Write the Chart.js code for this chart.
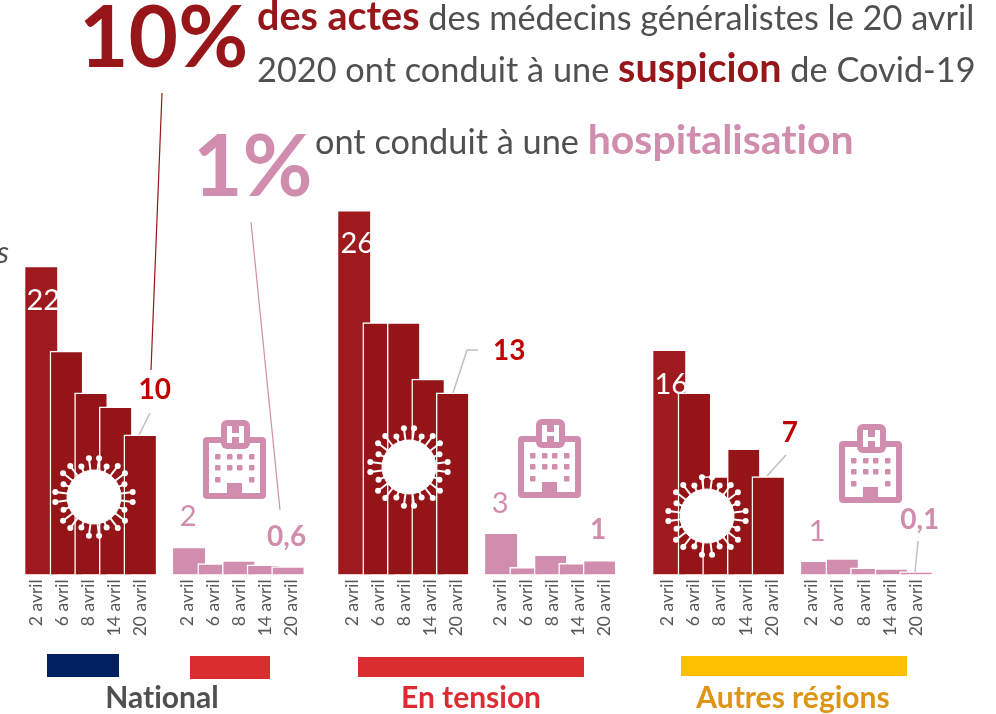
<!DOCTYPE html>
<html lang="fr">
<head>
<meta charset="utf-8">
<title>Actes des médecins généralistes</title>
<script src="https://cdn.jsdelivr.net/npm/chart.js@4"></script>
<style>
  html, body { margin: 0; padding: 0; background: #fff; }
  #page { position: relative; width: 996px; height: 714px; overflow: hidden; font-family: Lato, "Open Sans", sans-serif; font-variant-ligatures: none; }
  #page canvas { position: absolute; top: 150px; }
  #overlay { position: absolute; left: 0; top: 0; }
  .t { position: absolute; white-space: nowrap; color: #505050; line-height: 1; font-size: 34.3px; }
  .t b { font-weight: 700; font-size: 39.5px; }
  .big { font-size: 85.5px; font-weight: 700; }
  .bar { position: absolute; }
  .zone { position: absolute; font-weight: 700; font-size: 30px; line-height: 1; transform: translateX(-50%); white-space: nowrap; }
</style>
</head>
<body>
<div id="page">
  <canvas id="chartNational" width="291" height="490" style="left:19px"></canvas>
  <canvas id="chartTension" width="291" height="490" style="left:332px"></canvas>
  <canvas id="chartAutres" width="291" height="490" style="left:647px"></canvas>
  <svg id="overlay" width="996" height="714"></svg>

  <div class="t big" style="left:79px;top:-8px;color:#97161a">10%</div>
  <div class="t big" style="left:193px;top:121px;color:#d18dad">1%</div>
  <div class="t" style="left:257px;top:-5px"><b style="color:#97161a">des actes</b> des médecins généralistes le 20 avril</div>
  <div class="t" style="left:257px;top:47px">2020 ont conduit à une <b style="color:#97161a">suspicion</b> de Covid-19</div>
  <div class="t" style="left:315px;top:118px">ont conduit à une <b style="color:#d18dad;font-size:41px">hospitalisation</b></div>
  <div class="t" style="left:-3px;top:236px;font-size:30px;font-style:italic">s</div>

  <div class="bar" style="left:47px;top:654px;width:72px;height:23px;background:#002060"></div>
  <div class="bar" style="left:190px;top:656px;width:80px;height:23px;background:#d92d2f"></div>
  <div class="bar" style="left:358px;top:657px;width:226px;height:20px;background:#d92d2f"></div>
  <div class="bar" style="left:681px;top:656px;width:226px;height:20px;background:#ffc000"></div>
  <div class="zone" style="left:162px;top:681px;color:#505050">National</div>
  <div class="zone" style="left:471px;top:681px;color:#dc2b33">En tension</div>
  <div class="zone" style="left:793px;top:681px;color:#de9513">Autres régions</div>
</div>

<script>
const dates = ['2 avril', '6 avril', '8 avril', '14 avril', '20 avril'];

// % of GP visits
const nationalSuspicion = [22.1, 16, 13, 12, 10];
const nationalHospital = [1.96, 0.77, 0.98, 0.67, 0.55];
const tensionSuspicion = [26.1, 18.05, 18.05, 14, 13];
const tensionHospital = [2.97, 0.5, 1.4, 0.79, 1];
const autresSuspicion = [16.1, 13, 7, 9, 7];
const autresHospital = [0.96, 1.13, 0.46, 0.41, 0.19];

const darkRed = '#941418';
const firstRed = '#9f1a1f';
const pink = '#d18dad';

// only some bars carry a printed value: [bar index, text, dx, dy, colour, font]
const white28 = '400 29px Lato';
const redBold = '700 28px Lato';
const pink28 = '400 29px Lato';
const pinkBold = '700 28px Lato';
const nationalLabels = [
  [0, '22', 2, 34.5, '#fff', white28],
  [4, '10', 15, -44.5, '#c00000', redBold],
  [6, '2', -1, -30.5, pink, pink28],
  [10, '0,6', -1, -29.5, pink, pinkBold]
];
const tensionLabels = [
  [0, '26', 3, 33.5, '#fff', white28],
  [4, '13', 57, -41.5, '#c00000', redBold],
  [6, '3', -1, -29.5, pink, pink28],
  [10, '1', -1, -30.5, pink, pinkBold]
];
const autresLabels = [
  [0, '16', 2, 34.5, '#fff', white28],
  [4, '7', 22, -43.5, '#c00000', redBold],
  [6, '1', 0, -29.5, pink, pink28],
  [10, '0,1', 4, -51.5, pink, pinkBold]
];

const valueLabels = {
  id: 'valueLabels',
  afterDatasetsDraw(chart, args, opts) {
    const ctx = chart.ctx;
    const bars = chart.getDatasetMeta(0).data;
    ctx.save();
    ctx.textAlign = 'center';
    ctx.textBaseline = 'middle';
    opts.items.forEach(([i, text, dx, dy, color, font]) => {
      ctx.fillStyle = color;
      ctx.font = font;
      ctx.fillText(text, bars[i].x + dx, bars[i].y + dy);
    });
    ctx.restore();
  }
};

function drawPanel(id, suspicion, hospital, labels, tickStart, hospTickStart) {
  const names = dates.concat([''], dates);
  const values = suspicion.concat([null], hospital);
  // the date labels are spaced a little wider than the bars
  const tickStep = 1.18;
  const tickValues = dates.map((d, k) => tickStart + k * tickStep)
    .concat(dates.map((d, k) => hospTickStart + k * tickStep));

  return new Chart(document.getElementById(id), {
    type: 'bar',
    data: {
      labels: names,
      datasets: [{
        data: values,
        backgroundColor: (c) => c.dataIndex > 5 ? pink : (c.dataIndex === 0 ? firstRed : darkRed),
        borderColor: '#fff',
        borderWidth: (c) => ({ top: 1.5, left: c.dataIndex % 6 === 0 ? 0 : 1.5, right: 0, bottom: 0 }),
        borderSkipped: false,
        barThickness: 32,
        clip: false
      }]
    },
    options: {
      responsive: false,
      animation: false,
      layout: { padding: { left: 10, right: 10, top: 5.8 } },
      plugins: {
        legend: { display: false },
        tooltip: { enabled: false },
        valueLabels: { items: labels }
      },
      scales: {
        x: { display: false },
        dateAxis: {
          type: 'linear',
          axis: 'x',
          position: 'bottom',
          min: -0.5,
          max: 10.5,
          afterBuildTicks: (s) => { s.ticks = tickValues.map((v) => ({ value: v })); },
          afterFit: (s) => { s.height = 65.7; },
          grid: { display: false },
          border: { display: false },
          ticks: {
            autoSkip: false,
            minRotation: 90,
            maxRotation: 90,
            padding: -3,
            color: '#595959',
            font: { family: 'Lato', size: 17.5 },
            callback: (v, k) => dates[k % 5]
          }
        },
        y: { display: false, min: 0, max: 30 }
      }
    },
    plugins: [valueLabels]
  });
}

drawPanel('chartNational', nationalSuspicion, nationalHospital, nationalLabels, -0.8, 6.02);
drawPanel('chartTension', tensionSuspicion, tensionHospital, tensionLabels, -0.64, 6.09);
drawPanel('chartAutres', autresSuspicion, autresHospital, autresLabels, -0.64, 5.86);

// pictograms and leader lines on top of the charts
const NS = 'http://www.w3.org/2000/svg';
const overlay = document.getElementById('overlay');

function add(parent, tag, attrs) {
  const el = document.createElementNS(NS, tag);
  Object.keys(attrs).forEach((k) => el.setAttribute(k, attrs[k]));
  parent.appendChild(el);
  return el;
}

function virus(cx, cy) {
  const g = add(overlay, 'g', { fill: '#fff', stroke: '#fff' });
  add(g, 'circle', { cx, cy, r: 27, 'stroke-width': 1 });
  for (let k = 0; k < 24; k++) {
    const a = (k + 0.5) * Math.PI / 12;
    const r = k % 3 === 1 ? 33 : 39;
    const x = cx + r * Math.cos(a);
    const y = cy + r * Math.sin(a);
    add(g, 'line', { x1: cx, y1: cy, x2: x, y2: y, 'stroke-width': 2 });
    add(g, 'circle', { cx: x, cy: y, r: 3, 'stroke-width': 0 });
  }
}

function hospital(x, y) {
  const g = add(overlay, 'g', { transform: `translate(${x} ${y})`, fill: pink });
  add(g, 'rect', { x: 3, y: 20, width: 57, height: 56, rx: 1, fill: '#fff', stroke: pink, 'stroke-width': 6 });
  add(g, 'rect', { x: 18, y: 0, width: 29, height: 29, rx: 6 });
  add(g, 'path', { d: 'M24 6h5v7h7v-7h5v17h-5v-6h-7v6h-5z', fill: '#fff' });
  [12, 24, 34, 46].forEach((wx) => {
    [34, 45].forEach((wy) => add(g, 'rect', { x: wx, y: wy, width: 5.5, height: 5.5, rx: 1 }));
  });
  [12, 46].forEach((wx) => add(g, 'rect', { x: wx, y: 57, width: 5.5, height: 5.5, rx: 1 }));
  add(g, 'rect', { x: 24, y: 63, width: 15, height: 14 });
}

function leader(points, color, width) {
  add(overlay, 'polyline', { points, fill: 'none', stroke: color, 'stroke-width': width });
}

virus(94, 497);
virus(409, 467);
virus(707, 516);
hospital(203, 420);
hospital(518, 419);
hospital(839, 424);
leader('162,93 151,370', '#97161a', 1.2);
leader('251,222 280,510', pink, 1.2);
leader('139,435 150,413', '#bfbfbf', 1.5);
leader('453,393 467,350 478,350', '#bfbfbf', 1.5);
leader('767,476 786,455', '#bfbfbf', 1.5);
leader('915,572 918,541', '#bfbfbf', 1.5);
</script>
</body>
</html>
